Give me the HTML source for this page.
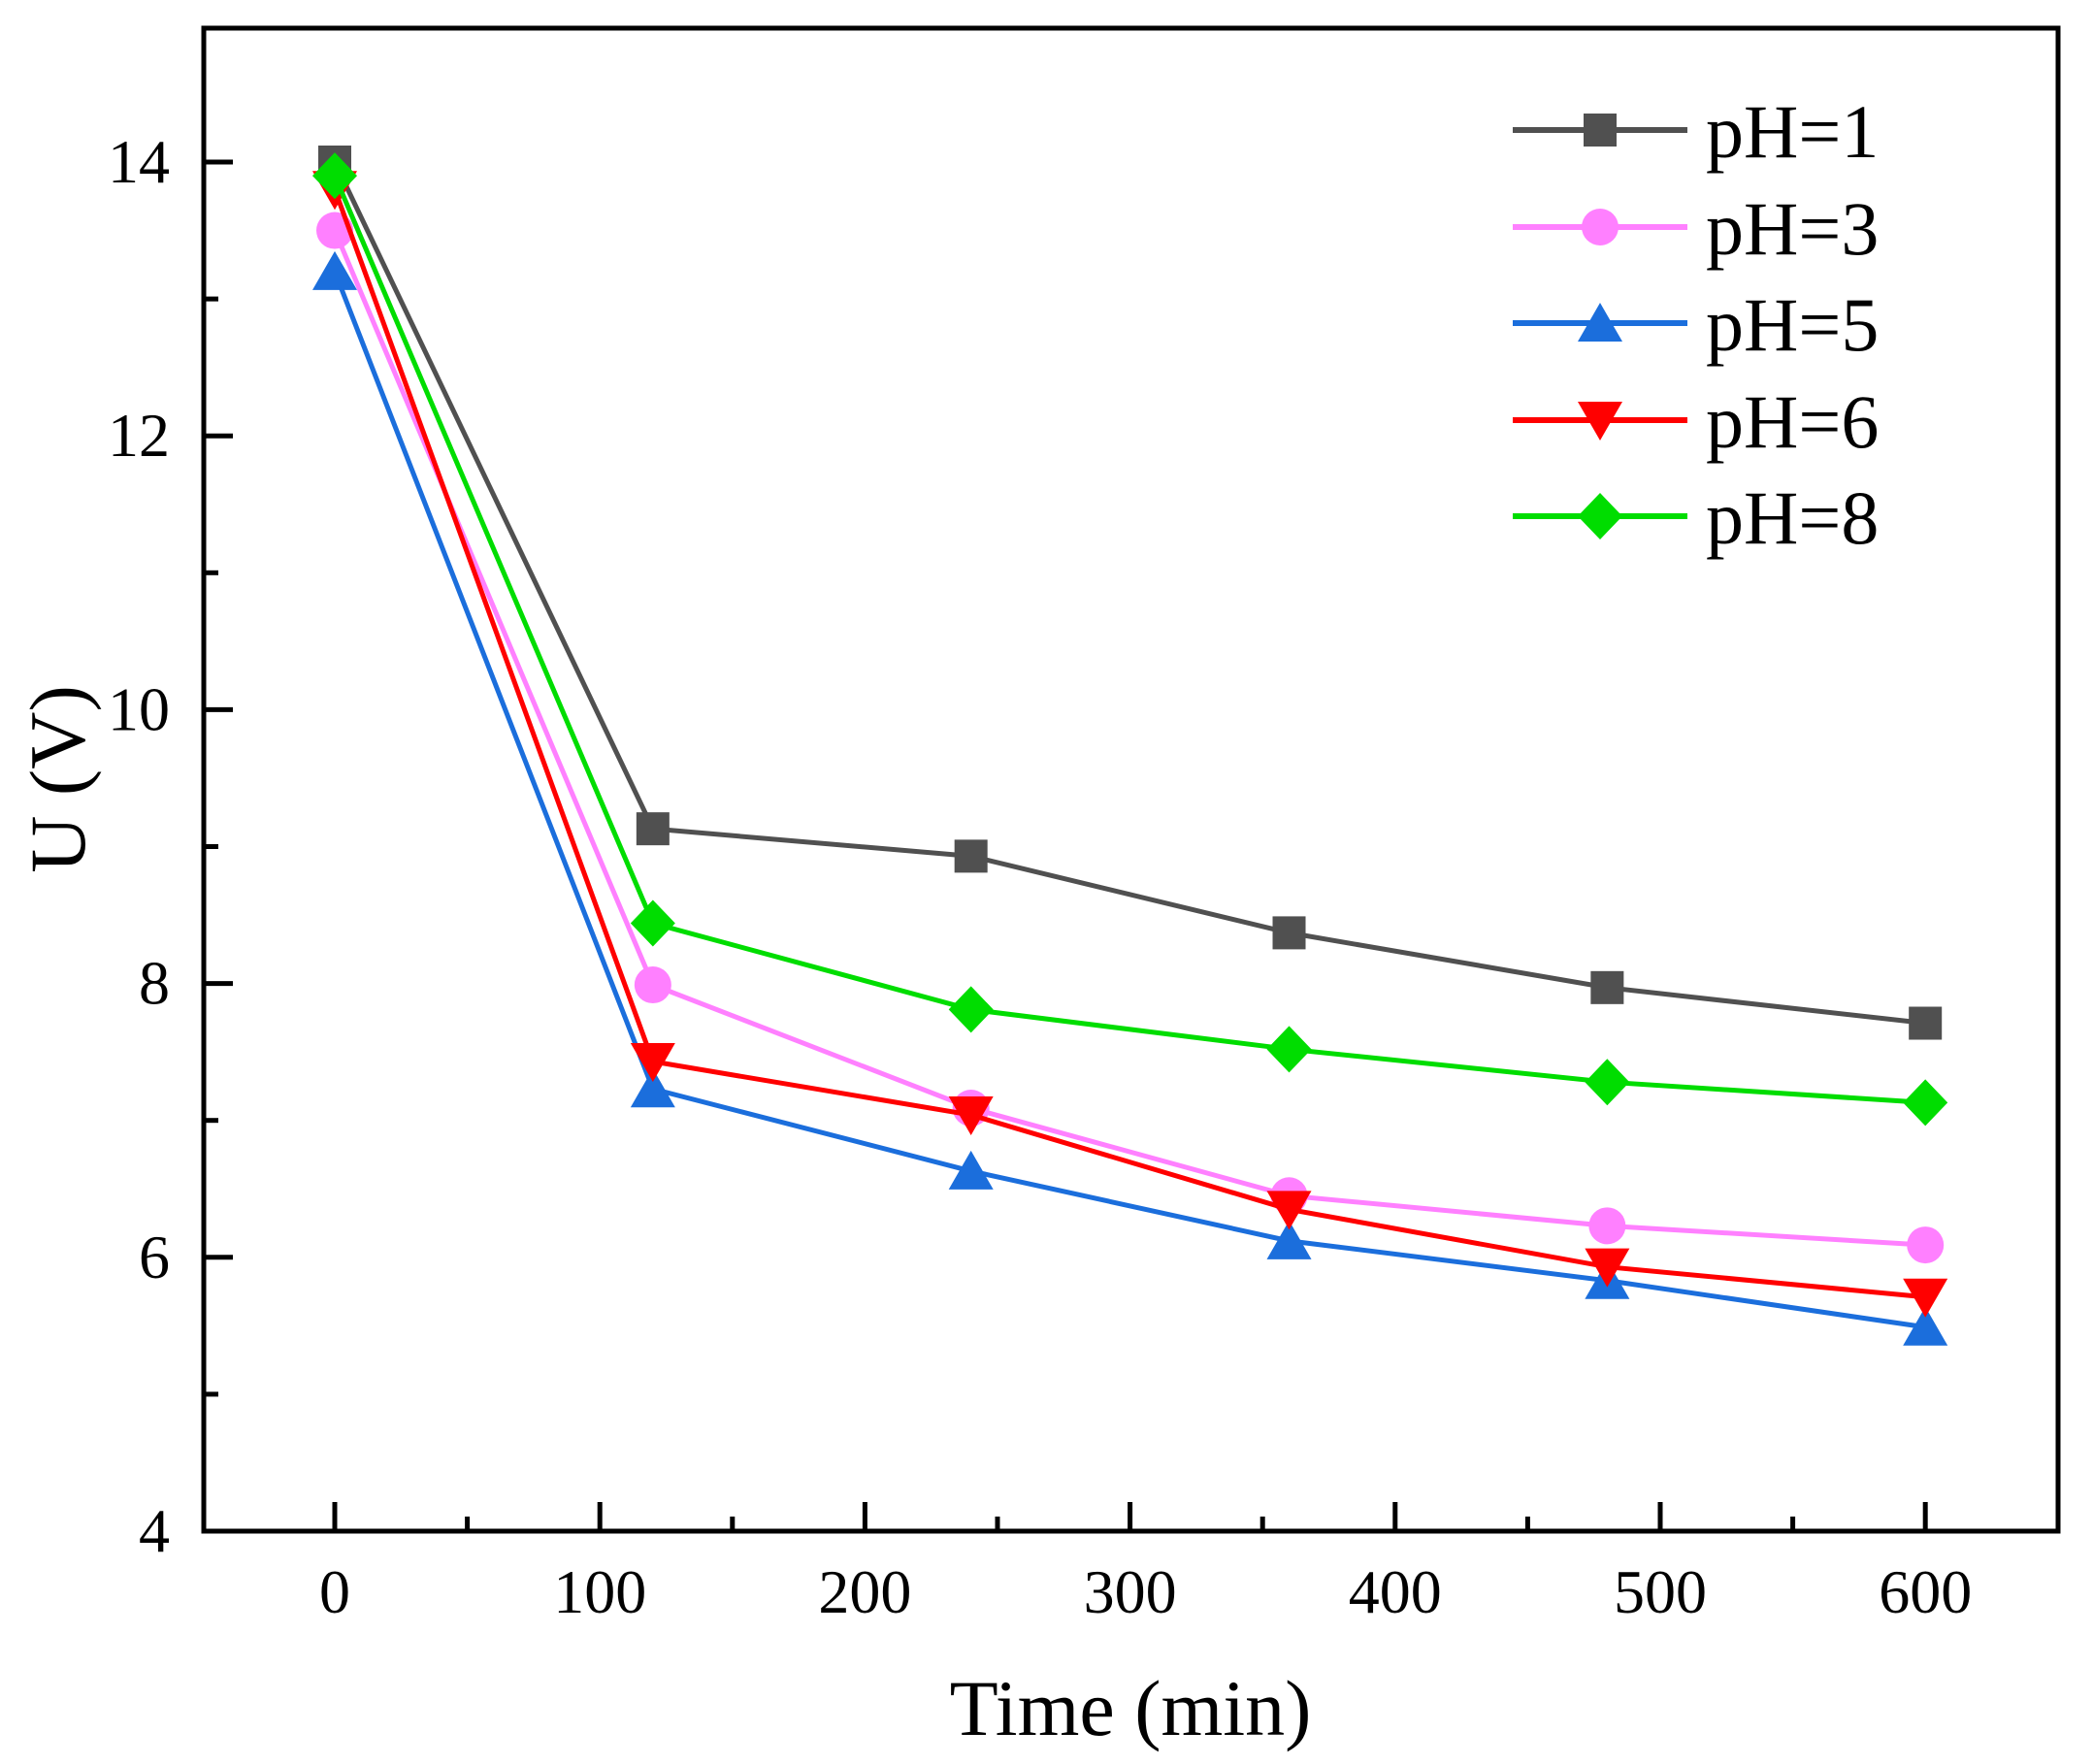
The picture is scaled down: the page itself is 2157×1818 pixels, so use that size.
<!DOCTYPE html>
<html><head><meta charset="utf-8"><style>
html,body{margin:0;padding:0;background:#fff;}
svg{display:block;}
text{font-family:"Liberation Serif",serif;fill:#000;}
</style></head><body>
<svg width="2157" height="1818" viewBox="0 0 2157 1818" xmlns="http://www.w3.org/2000/svg">
<defs>
<rect id="sq" x="-17" y="-17" width="34" height="34" fill="#505050"/>
<circle id="ci" r="19" fill="#FF80FF"/>
<polygon id="tu" points="0,-21 23,19 -23,19" fill="#1B6EDC"/>
<polygon id="td" points="0,21 23,-19 -23,-19" fill="#FF0000"/>
<polygon id="di" points="0,-24 23,0 0,24 -23,0" fill="#00DD00"/>
</defs>
<g id="plot"></g>
<script>
(function(){
var ns="http://www.w3.org/2000/svg",g=document.getElementById('plot');
function X(t){return 345+t*2.732;} function Y(v){return 1578-(v-4)*141.1;}
function el(n,a,p){var e=document.createElementNS(ns,n);for(var k in a)e.setAttribute(k,a[k]);(p||g).appendChild(e);return e;}
var ts=[0,120,240,360,480,600];
var S=[["#505050","sq",[14,9.13,8.93,8.37,7.97,7.71]],
["#FF80FF","ci",[13.5,7.99,7.09,6.45,6.23,6.09]],
["#1B6EDC","tu",[13.2,7.23,6.63,6.12,5.83,5.49]],
["#FF0000","td",[13.8,7.43,7.04,6.35,5.93,5.71]],
["#00DD00","di",[13.9,8.44,7.81,7.52,7.28,7.13]]];
S.forEach(function(s){
 var pts=ts.map(function(t,i){return X(t)+","+Y(s[2][i]);}).join(" ");
 el("polyline",{points:pts,fill:"none",stroke:s[0],"stroke-width":5,"stroke-linejoin":"miter"});
 ts.forEach(function(t,i){el("use",{href:"#"+s[1],x:X(t),y:Y(s[2][i])});});
});
// axes frame
el("rect",{x:210,y:29,width:1911,height:1549,fill:"none",stroke:"#000","stroke-width":5});
// x ticks
for(var t=-50;t<=650;t+=50){var x=X(t);var maj=(t%100===0);
 if(x>212&&x<2119) el("line",{x1:x,y1:1578,x2:x,y2:1578-(maj?30:15),stroke:"#000","stroke-width":5});
 if(maj&&t>=0&&t<=600){var tx=el("text",{x:x,y:1662,"font-size":64,"text-anchor":"middle"});tx.textContent=t;}}
// y ticks
for(var v=5;v<=14;v++){var y=Y(v);var maj=(v%2===0);
 el("line",{x1:210,y1:y,x2:210+(maj?30:15),y2:y,stroke:"#000","stroke-width":5});
 if(maj){var ty=el("text",{x:175,y:y+21,"font-size":64,"text-anchor":"end"});ty.textContent=v;}}
var t4=el("text",{x:175,y:1578+21,"font-size":64,"text-anchor":"end"});t4.textContent="4";
// legend
var ly=[134,234,333,433,532];
S.forEach(function(s,i){
 el("line",{x1:1559,y1:ly[i],x2:1739,y2:ly[i],stroke:s[0],"stroke-width":6});
 el("use",{href:"#"+s[1],x:1649,y:ly[i]});
 var lt=el("text",{x:1758,y:ly[i]+28,"font-size":78});lt.textContent="pH="+["1","3","5","6","8"][i];
});
})();
</script>
<text x="1165" y="1788" font-size="82" text-anchor="middle">Time (min)</text>
<text x="0" y="0" font-size="82" text-anchor="middle" transform="translate(87,803) rotate(-90)">U (V)</text>
</svg>
</body></html>
